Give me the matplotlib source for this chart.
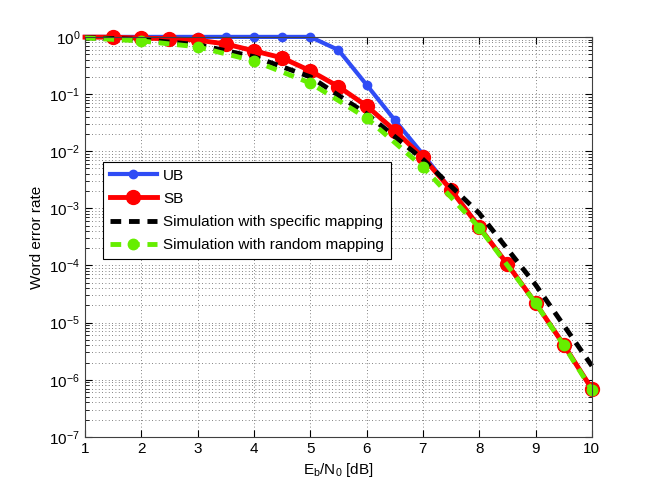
import matplotlib
matplotlib.use("Agg")
import matplotlib.pyplot as plt
import numpy as np

plt.rcParams['font.family'] = ['Liberation Sans', 'DejaVu Sans']
plt.rcParams['mathtext.fontset'] = 'custom'
plt.rcParams['mathtext.rm'] = 'Liberation Sans'
plt.rcParams['mathtext.it'] = 'Liberation Sans'
plt.rcParams['mathtext.default'] = 'regular'

# Eb/N0 grid [dB]
snr_half = [1, 1.5, 2, 2.5, 3, 3.5, 4, 4.5, 5, 5.5, 6, 6.5, 7, 7.5, 8, 8.5, 9, 9.5, 10]
snr_int = [1, 2, 3, 4, 5, 6, 7, 8, 9, 10]
snr_rand = [1, 2, 3, 4, 5, 6, 7, 8, 9, 9.5, 10]

# union bound
ub = [1, 1, 1, 1, 1, 1, 1, 1, 1, 0.59, 0.145, 0.035, 0.0088,
      2.1e-3, 4.7e-4, 1.05e-4, 2.2e-5, 4.1e-6, 6.9e-7]
# sphere bound
sb = [0.99, 0.99, 0.95, 0.93, 0.88, 0.75, 0.57, 0.43, 0.255, 0.135, 0.062, 0.023, 0.0078,
      2.1e-3, 4.7e-4, 1.05e-4, 2.2e-5, 4.1e-6, 6.9e-7]
# simulations
sim_spec = [0.97, 0.9, 0.73, 0.45, 0.2, 0.045, 7.2e-3, 8.2e-4, 4.6e-5, 1.75e-6]
sim_rand = [0.96, 0.85, 0.67, 0.38, 0.156, 0.038, 5.3e-3, 4.6e-4, 2.2e-5, 4.0e-6, 6.6e-7]

fig = plt.figure(figsize=(6.54, 4.92), dpi=100)
ax = fig.add_axes([0.13, 0.112, 0.775, 0.813])

ax.semilogy(snr_half, ub, '-o', color='#2f4cf5', lw=3, ms=6,
            markevery=slice(1, None), clip_on=False, label='UB')
ax.semilogy(snr_half, sb, '-o', color='#ff0000', lw=3.5, ms=10,
            markevery=slice(1, None), clip_on=False, label='SB')
ax.semilogy(snr_int, sim_spec, '--', color='black', lw=3.5,
            dashes=(2.2, 1.6), clip_on=False,
            label='Simulation with specific mapping')
ax.semilogy(snr_rand, sim_rand, '--o', color='#66ee00', lw=3.5, ms=7.5,
            dashes=(2.2, 1.6), markevery=slice(1, None), clip_on=False,
            label='Simulation with random mapping')

ax.set_xlim(1, 10)
ax.set_ylim(1e-7, 1)
ax.set_xticks(range(1, 11))
ax.set_yticks([10.0**k for k in range(-7, 1)])

ax.grid(True, which='major', axis='x', color='0.35', ls=(0, (1, 3)), lw=0.6)
ax.grid(True, which='both', axis='y', color='0.35', ls=(0, (1, 3)), lw=0.6)

ax.tick_params(which='both', direction='in', top=True, right=True,
               labelsize=11, colors='black')
ax.tick_params(which='major', length=5)
ax.tick_params(which='minor', length=3)
for s in ax.spines.values():
    s.set_linewidth(0.8)
    s.set_color('0.25')

ax.set_xlabel(r'E$_b$/N$_0$ [dB]', fontsize=11)
ax.set_ylabel('Word error rate', fontsize=11)

leg = ax.legend(loc='upper left', bbox_to_anchor=(0.035, 0.688), fontsize=11,
                fancybox=False, framealpha=1, edgecolor='black',
                borderaxespad=0, handlelength=3.1, labelspacing=0.6,
                borderpad=0.45, handletextpad=0.4)
leg.get_frame().set_linewidth(0.8)

fig.savefig('out.png', dpi=100)
